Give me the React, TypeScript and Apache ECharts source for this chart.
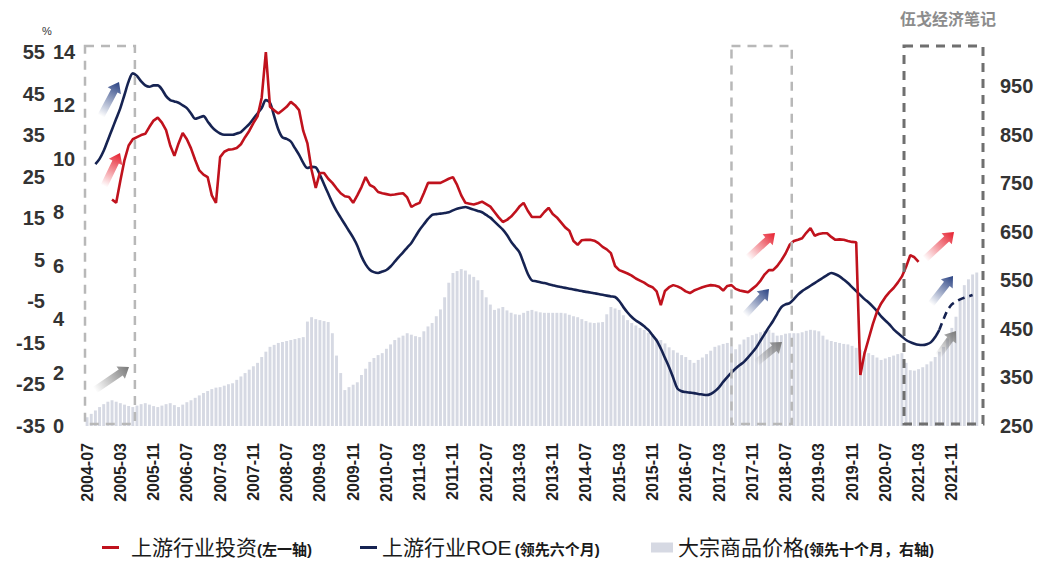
import React, { useEffect, useRef } from "react";
import * as echarts from "echarts";

// ---------- categories (monthly, 2004-07 .. 2022-06) ----------
const START_YEAR = 2004;
const START_MONTH = 7;
const MONTHS = 216;
const categories: string[] = [];
for (let k = 0; k < MONTHS; k++) {
  const m = START_MONTH - 1 + k;
  const y = START_YEAR + Math.floor(m / 12);
  const mm = (m % 12) + 1;
  categories.push(`${y}-${String(mm).padStart(2, "0")}`);
}

// ---------- series values ----------
// 上游行业投资 (%), left outer axis
const investment: (number | null)[] = [
  null, null, null, null, null, null, 19.5, 18.7, 24, 29,
  32.5, 34, 34.5, 35, 35.3, 37, 38.5, 39.2, 38, 36.2,
  32.5, 30, 33, 35.5, 34, 31.8, 29, 26.5, 25.5, 24.9,
  20.5, 18.7, 29.7, 31, 31.5, 31.6, 31.9, 32.8, 34.5, 36,
  37.9, 39.5, 44, 55, 41.8, 41, 40.2, 41, 41.8, 43,
  42.2, 41, 36, 33, 26.6, 22.3, 25.9, 25.9, 24.5, 23.5,
  22.2, 21, 20.3, 20.1, 18.7, 20.5, 22.5, 24.9, 23, 22.5,
  21.3, 21, 20.8, 20.6, 20.7, 20.9, 21, 20, 17.7, 18.3,
  18.7, 21, 23.5, 23.5, 23.5, 23.5, 24, 24.5, 24.9, 23,
  20.5, 18.7, 18.5, 18.3, 18.6, 19, 18.4, 17.8, 16.5, 15.2,
  14.1, 14.6, 15.4, 16.5, 17.8, 18.7, 16.8, 15.3, 15.3, 15.3,
  16.5, 17.5, 16, 15.2, 14, 12.8, 12, 9.5, 8.6, 9.7,
  9.8, 9.8, 9.6, 9, 8.1, 7.5, 6.6, 3.5, 2.5, 2.1,
  1.7, 1.2, 0.5, 0, -0.5, -1.2, -1.6, -2.6, -5.9, -2.5,
  -1.6, -1.1, -1.4, -1.9, -2.6, -3, -2.4, -2, -1.6, -1.3,
  -1.1, -1.2, -1.5, -2.4, -1.3, -1.1, -2, -2.4, -2.6, -2.8,
  -2, -1.2, 0, 1.5, 2.5, 2.5, 3.5, 4.9, 6.5, 8.6,
  9.5, 9.8, 10.2, 11.5, 12.6, 10.8, 11.2, 11.4, 11.4, 10.5,
  9.8, 9.9, 9.8, 9.5, 9.3, 9.2, -22.7, -17.5, -14, -10.5,
  -7.5, -5.5, -4, -2.8, -1.8, -0.5, 1, 3.3, 6.1, 5.6,
  4.5, null, null, null, null, null, null, null, null, null,
  null, null, null, null, null, null,
];

// 上游行业ROE (%), left inner axis; values from FORECAST_FROM on are drawn dashed
const roe: (number | null)[] = [
  null, null, 9.8, 10.0, 10.3, 10.7, 11.1, 11.5, 11.9, 12.4,
  12.9, 13.2, 13.1, 12.9, 12.75, 12.7, 12.75, 12.75, 12.6, 12.35,
  12.2, 12.15, 12.1, 12.0, 11.9, 11.7, 11.5, 11.55, 11.6, 11.4,
  11.2, 11.05, 10.95, 10.9, 10.9, 10.9, 10.95, 11.0, 11.15, 11.3,
  11.5, 11.7, 11.9, 12.2, 12.1, 11.6, 11.1, 10.8, 10.75, 10.65,
  10.4, 10.15, 9.85, 9.66, 9.7, 9.68, 9.4, 9.05, 8.7, 8.35,
  8.05, 7.8, 7.55, 7.3, 7.05, 6.75, 6.35, 6.05, 5.85, 5.76,
  5.73, 5.78, 5.84, 5.97, 6.15, 6.33, 6.5, 6.68, 6.85, 7.1,
  7.35, 7.55, 7.75, 7.9, 7.93, 7.95, 7.97, 8.0, 8.07, 8.13,
  8.17, 8.2, 8.15, 8.1, 8.05, 8.0, 7.9, 7.8, 7.65, 7.5,
  7.35, 7.15, 6.9, 6.7, 6.5, 6.1, 5.7, 5.45, 5.42, 5.38,
  5.35, 5.31, 5.27, 5.23, 5.2, 5.17, 5.14, 5.11, 5.08, 5.05,
  5.02, 5.0, 4.97, 4.94, 4.91, 4.88, 4.85, 4.83, 4.68, 4.45,
  4.25, 4.08, 3.95, 3.85, 3.73, 3.6, 3.4, 3.2, 2.9, 2.55,
  2.2, 1.8, 1.4, 1.3, 1.27, 1.25, 1.23, 1.2, 1.18, 1.16,
  1.2, 1.3, 1.45, 1.65, 1.83, 2.0, 2.15, 2.28, 2.4, 2.57,
  2.75, 2.95, 3.2, 3.45, 3.7, 3.93, 4.2, 4.45, 4.55, 4.6,
  4.75, 4.92, 5.05, 5.15, 5.25, 5.35, 5.45, 5.55, 5.65, 5.73,
  5.68, 5.6, 5.48, 5.35, 5.2, 5.05, 4.9, 4.75, 4.62, 4.47,
  4.3, 4.1, 3.95, 3.8, 3.62, 3.48, 3.35, 3.22, 3.14, 3.08,
  3.04, 3.03, 3.06, 3.14, 3.33, 3.6, 4.0, 4.34, 4.55, 4.66,
  4.74, 4.8, 4.85, 4.9, null, null,
];
const FORECAST_FROM = 205;

// 大宗商品价格, right axis
const commodity: (number | null)[] = [
  268, 275, 282, 289, 295, 300, 303, 300, 297, 294,
  291, 289, 292, 295, 297, 294, 291, 289, 292, 295,
  297, 293, 289, 294, 299, 303, 308, 313, 318, 322,
  326, 329, 330, 333, 336, 338, 345, 352, 359, 366,
  373, 380, 392, 403, 413, 417, 421, 423, 425, 427,
  429, 431, 433, 465, 474, 470, 468, 466, 464, 441,
  395, 359, 324, 330, 335, 340, 355, 368, 382, 390,
  396, 400, 409, 418, 427, 432, 436, 441, 438, 435,
  433, 445, 455, 462, 476, 490, 515, 545, 565, 569,
  573, 570, 562, 557, 550, 530, 515, 500, 489, 492,
  495, 488, 483, 480, 479, 483, 487, 489, 486, 484,
  483, 483, 483, 483, 483, 482, 479, 476, 474, 470,
  466, 463, 462, 463, 464, 480, 495, 492, 489, 478,
  468, 462, 457, 452, 448, 442, 436, 430, 427, 420,
  412, 406, 401, 396, 392, 386, 380, 386, 391, 398,
  405, 413, 416, 419, 421, 414, 408, 418, 428, 433,
  437, 440, 443, 446, 448, 442, 436, 437, 440, 441,
  441, 441, 443, 446, 448, 447, 445, 436, 428, 425,
  423, 421, 419, 418, 415, 411, 407, 404, 400, 396,
  391, 386, 389, 392, 395, 398, 400, 380, 365, 364,
  367, 371, 377, 383, 392, 403, 413, 430, 452, 475,
  510, 540, 552, 562, 566, null,
];

// ---------- axis ranges ----------
const leftOuterRange = { min: -35, max: 55, interval: 10 };
const leftInnerRange = { min: 0, max: 14, interval: 2 };
const rightRange = { min: 250, max: 1020, interval: 100 };

const NAME_INV = "上游行业投资";
const NAME_ROE = "上游行业ROE";
const NAME_COM = "大宗商品价格";

const FONT = '"Liberation Sans", "Noto Sans CJK SC", sans-serif';

function arrowPoints(x1: number, y1: number, x2: number, y2: number) {
  const shaft = 3.6, head = 7.5, headLen = 10;
  const dx = x2 - x1, dy = y2 - y1;
  const L = Math.hypot(dx, dy);
  const ux = dx / L, uy = dy / L;
  const nx = -uy, ny = ux;
  const bx = x2 - ux * headLen, by = y2 - uy * headLen;
  return [
    [x1 + nx * shaft, y1 + ny * shaft],
    [bx + nx * shaft, by + ny * shaft],
    [bx + nx * head, by + ny * head],
    [x2, y2],
    [bx - nx * head, by - ny * head],
    [bx - nx * shaft, by - ny * shaft],
    [x1 - nx * shaft, y1 - ny * shaft],
  ];
}

export default function App() {
  const ref = useRef<HTMLDivElement>(null);

  useEffect(() => {
    if (!ref.current) return;
    const chart = echarts.init(ref.current, undefined, { renderer: "svg" });

    const roeSolid = roe.map((v, i) => (i <= FORECAST_FROM ? v : null));
    const roeDashed = roe.map((v, i) => (i >= FORECAST_FROM ? v : null));

    const legendRich = {
      a: { fontSize: 21, color: "#1a1a1a", fontFamily: FONT, padding: [0, 0, 0, 0] },
      a2: { fontSize: 21, color: "#1a1a1a", fontFamily: FONT, padding: [0, 0, 0, 7] },
      b: { fontSize: 15, fontWeight: "bold", color: "#1a1a1a", fontFamily: FONT, padding: [4, 0, 0, 0] },
    };

    chart.setOption({
      animation: false,
      textStyle: { fontFamily: FONT },
      title: {
        text: "伍戈经济笔记",
        right: 44,
        top: 6,
        textStyle: { fontSize: 16, fontWeight: "bold", color: "#8c8c8c", fontFamily: FONT },
      },
      grid: { left: 85, right: 62, top: 52, bottom: 137, containLabel: false },
      legend: [
        {
          data: [NAME_INV],
          left: 97,
          top: 532,
          icon: "rect",
          itemWidth: 17,
          itemHeight: 3,
          formatter: () => `{a2|${NAME_INV}}{b|(左一轴)}`,
          textStyle: { rich: legendRich },
        },
        {
          data: [NAME_ROE],
          left: 355,
          top: 532,
          icon: "rect",
          itemWidth: 17,
          itemHeight: 3,
          formatter: () => `{a|${NAME_ROE}} {b|(领先六个月)}`,
          textStyle: { rich: legendRich },
        },
        {
          data: [NAME_COM],
          left: 646,
          top: 532,
          icon: "rect",
          itemWidth: 22,
          itemHeight: 10,
          formatter: () => `{a|${NAME_COM}}{b|(领先十个月，右轴)}`,
          textStyle: { rich: legendRich },
        },
      ],
      xAxis: {
        type: "category",
        data: categories,
        boundaryGap: true,
        axisLine: { show: false },
        axisTick: { show: false },
        axisLabel: {
          interval: 7,
          rotate: 90,
          fontSize: 16,
          fontWeight: "bold",
          color: "#222",
          margin: 17,
          fontFamily: FONT,
        },
      },
      yAxis: [
        {
          type: "value",
          position: "left",
          ...leftOuterRange,
          axisLine: { show: false },
          axisTick: { show: false },
          splitLine: { show: false },
          axisLabel: { fontSize: 20, fontWeight: "bold", color: "#333", margin: 40, align: "right", fontFamily: FONT },
        },
        {
          type: "value",
          position: "left",
          ...leftInnerRange,
          axisLine: { show: false },
          axisTick: { show: false },
          splitLine: { show: false },
          axisLabel: { fontSize: 20, fontWeight: "bold", color: "#333", margin: 32, align: "left", fontFamily: FONT },
        },
        {
          type: "value",
          position: "right",
          ...rightRange,
          axisLine: { show: false },
          axisTick: { show: false },
          splitLine: { show: false },
          axisLabel: { fontSize: 20, fontWeight: "bold", color: "#333", margin: 17, showMaxLabel: false, fontFamily: FONT },
        },
      ],
      series: [
        {
          name: NAME_COM,
          type: "bar",
          yAxisIndex: 2,
          data: commodity,
          barCategoryGap: "30%",
          itemStyle: { color: "#d6d9e3" },
          z: 1,
        },
        {
          name: NAME_INV,
          type: "line",
          yAxisIndex: 0,
          data: investment,
          symbol: "none",
          color: "#c0121d",
          lineStyle: { width: 2.6, color: "#c0121d" },
          z: 4,
        },
        {
          name: NAME_ROE,
          type: "line",
          yAxisIndex: 1,
          data: roeSolid,
          symbol: "none",
          smooth: 0.3,
          color: "#162352",
          lineStyle: { width: 2.6, color: "#162352" },
          z: 3,
        },
        {
          name: NAME_ROE,
          type: "line",
          yAxisIndex: 1,
          data: roeDashed,
          symbol: "none",
          smooth: 0.3,
          color: "#162352",
          lineStyle: { width: 2.6, color: "#162352", type: [7, 5] },
          z: 3,
        },
      ],
    });

    // decorations: dashed highlight boxes and gradient arrows
    const px = (i: number) => chart.convertToPixel({ xAxisIndex: 0 }, categories[i]) as number;
    const bw = px(1) - px(0);
    const edge = (b: number) => px(0) - bw / 2 + b * bw;
    const top = 46, bottom = 424;
    const boxes: [number, number, string, number][] = [
      [0, 12, "#b8b8b8", 2.5],
      [155.5, 170, "#b8b8b8", 2.5],
      [197, 216, "#6f6f6f", 3],
    ];
    const arrows: [number, number, number, number, string][] = [
      [104, 186, 120, 153, "230,30,45"],
      [748, 258, 775, 233, "230,30,45"],
      [925, 259, 954, 232, "230,30,45"],
      [101, 116, 119, 82, "40,65,130"],
      [745, 315, 769, 289, "40,65,130"],
      [931, 304, 953, 276, "40,65,130"],
      [95, 390, 129, 367, "120,120,120"],
      [756, 363, 782, 342, "120,120,120"],
      [938, 356, 956, 331, "120,120,120"],
    ];
    const graphics: any[] = [];
    boxes.forEach(([b0, b1, color, lw]) => {
      graphics.push({
        type: "rect",
        shape: { x: edge(b0), y: top, width: edge(b1) - edge(b0), height: bottom - top },
        style: { fill: "none", stroke: color, lineWidth: lw, lineDash: [9, 7] },
        z: 10,
      });
    });
    arrows.forEach(([x1, y1, x2, y2, rgb]) => {
      graphics.push({
        type: "polygon",
        shape: { points: arrowPoints(x1, y1, x2, y2) },
        style: {
          fill: {
            type: "linear",
            x: x1, y: y1, x2: x2, y2: y2,
            global: true,
            colorStops: [
              { offset: 0, color: `rgba(${rgb},0)` },
              { offset: 1, color: `rgba(${rgb},1)` },
            ],
          },
        },
        z: 11,
      });
    });
    graphics.push({
      type: "text",
      x: 47,
      y: 31,
      style: { text: "%", fontSize: 11, fill: "#333", align: "center", verticalAlign: "middle", fontFamily: FONT },
      z: 12,
    });
    chart.setOption({ graphic: graphics });

    return () => chart.dispose();
  }, []);

  return (
    <div
      ref={ref}
      style={{ position: "absolute", left: 0, top: 0, width: 1045, height: 563, background: "#fff" }}
    />
  );
}
